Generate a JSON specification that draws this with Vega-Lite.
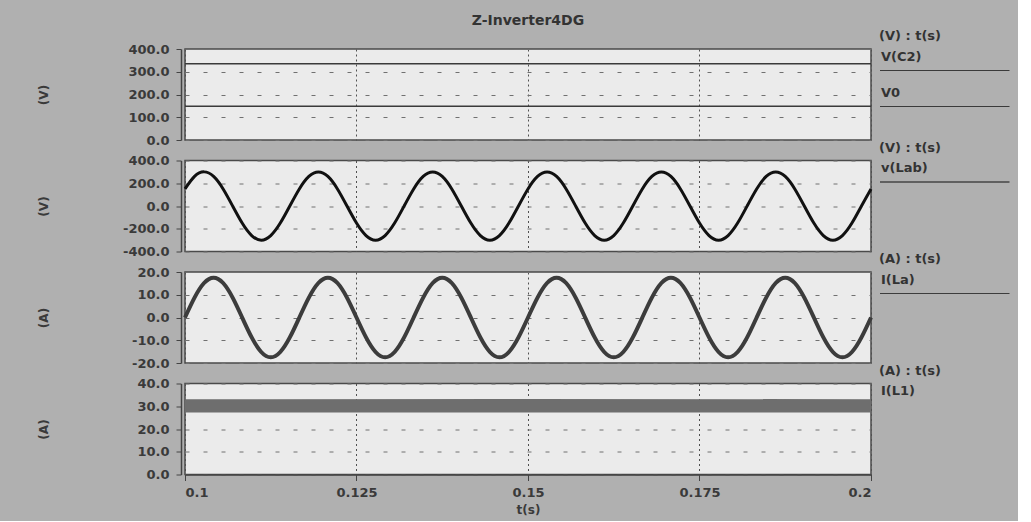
{
 "$schema": "https://vega.github.io/schema/vega-lite/v6.json",
 "background": "#b0b0b0",
 "padding": {"left": 36, "top": 14, "right": 5, "bottom": 4},
 "bounds": "flush",
 "spacing": 20.5,
 "title": {"text": "Z-Inverter4DG", "frame": "group", "anchor": "middle", "font": "DejaVu Sans", "fontSize": 14, "fontWeight": "bold", "color": "#333333", "offset": 1},
 "datasets": {
  "dc": [
   {"t": 0.1, "series": "V(C2)", "value": 335},
   {"t": 0.2, "series": "V(C2)", "value": 335},
   {"t": 0.1, "series": "V0", "value": 148},
   {"t": 0.2, "series": "V0", "value": 148}
  ],
  "ripple": [
   {"t": 0.1, "lo": 27.2, "hi": 33.1},
   {"t": 0.15, "lo": 27.3, "hi": 33.2},
   {"t": 0.2, "lo": 27.2, "hi": 33.1}
  ],
  "sines": [
   {"t": 0.1, "vlab": 150, "ila": 0},
   {"t": 0.101389, "vlab": 260, "ila": 8.75},
   {"t": 0.102778, "vlab": 300, "ila": 15.16},
   {"t": 0.104167, "vlab": 260, "ila": 17.5},
   {"t": 0.105556, "vlab": 150, "ila": 15.16},
   {"t": 0.106944, "vlab": 0, "ila": 8.75},
   {"t": 0.108333, "vlab": -150, "ila": 0},
   {"t": 0.109722, "vlab": -260, "ila": -8.75},
   {"t": 0.111111, "vlab": -300, "ila": -15.16},
   {"t": 0.1125, "vlab": -260, "ila": -17.5},
   {"t": 0.113889, "vlab": -150, "ila": -15.16},
   {"t": 0.115278, "vlab": 0, "ila": -8.75},
   {"t": 0.116667, "vlab": 150, "ila": 0},
   {"t": 0.118056, "vlab": 260, "ila": 8.75},
   {"t": 0.119444, "vlab": 300, "ila": 15.16},
   {"t": 0.120833, "vlab": 260, "ila": 17.5},
   {"t": 0.122222, "vlab": 150, "ila": 15.16},
   {"t": 0.123611, "vlab": 0, "ila": 8.75},
   {"t": 0.125, "vlab": -150, "ila": 0},
   {"t": 0.126389, "vlab": -260, "ila": -8.75},
   {"t": 0.127778, "vlab": -300, "ila": -15.16},
   {"t": 0.129167, "vlab": -260, "ila": -17.5},
   {"t": 0.130556, "vlab": -150, "ila": -15.16},
   {"t": 0.131944, "vlab": 0, "ila": -8.75},
   {"t": 0.133333, "vlab": 150, "ila": 0},
   {"t": 0.134722, "vlab": 260, "ila": 8.75},
   {"t": 0.136111, "vlab": 300, "ila": 15.16},
   {"t": 0.1375, "vlab": 260, "ila": 17.5},
   {"t": 0.138889, "vlab": 150, "ila": 15.16},
   {"t": 0.140278, "vlab": 0, "ila": 8.75},
   {"t": 0.141667, "vlab": -150, "ila": 0},
   {"t": 0.143056, "vlab": -260, "ila": -8.75},
   {"t": 0.144444, "vlab": -300, "ila": -15.16},
   {"t": 0.145833, "vlab": -260, "ila": -17.5},
   {"t": 0.147222, "vlab": -150, "ila": -15.16},
   {"t": 0.148611, "vlab": 0, "ila": -8.75},
   {"t": 0.15, "vlab": 150, "ila": 0},
   {"t": 0.151389, "vlab": 260, "ila": 8.75},
   {"t": 0.152778, "vlab": 300, "ila": 15.16},
   {"t": 0.154167, "vlab": 260, "ila": 17.5},
   {"t": 0.155556, "vlab": 150, "ila": 15.16},
   {"t": 0.156944, "vlab": 0, "ila": 8.75},
   {"t": 0.158333, "vlab": -150, "ila": 0},
   {"t": 0.159722, "vlab": -260, "ila": -8.75},
   {"t": 0.161111, "vlab": -300, "ila": -15.16},
   {"t": 0.1625, "vlab": -260, "ila": -17.5},
   {"t": 0.163889, "vlab": -150, "ila": -15.16},
   {"t": 0.165278, "vlab": 0, "ila": -8.75},
   {"t": 0.166667, "vlab": 150, "ila": 0},
   {"t": 0.168056, "vlab": 260, "ila": 8.75},
   {"t": 0.169444, "vlab": 300, "ila": 15.16},
   {"t": 0.170833, "vlab": 260, "ila": 17.5},
   {"t": 0.172222, "vlab": 150, "ila": 15.16},
   {"t": 0.173611, "vlab": 0, "ila": 8.75},
   {"t": 0.175, "vlab": -150, "ila": 0},
   {"t": 0.176389, "vlab": -260, "ila": -8.75},
   {"t": 0.177778, "vlab": -300, "ila": -15.16},
   {"t": 0.179167, "vlab": -260, "ila": -17.5},
   {"t": 0.180556, "vlab": -150, "ila": -15.16},
   {"t": 0.181944, "vlab": 0, "ila": -8.75},
   {"t": 0.183333, "vlab": 150, "ila": 0},
   {"t": 0.184722, "vlab": 260, "ila": 8.75},
   {"t": 0.186111, "vlab": 300, "ila": 15.16},
   {"t": 0.1875, "vlab": 260, "ila": 17.5},
   {"t": 0.188889, "vlab": 150, "ila": 15.16},
   {"t": 0.190278, "vlab": 0, "ila": 8.75},
   {"t": 0.191667, "vlab": -150, "ila": 0},
   {"t": 0.193056, "vlab": -260, "ila": -8.75},
   {"t": 0.194444, "vlab": -300, "ila": -15.16},
   {"t": 0.195833, "vlab": -260, "ila": -17.5},
   {"t": 0.197222, "vlab": -150, "ila": -15.16},
   {"t": 0.198611, "vlab": 0, "ila": -8.75},
   {"t": 0.2, "vlab": 150, "ila": 0}
  ]
 },
 "resolve": {"scale": {"color": "independent"}, "legend": {"color": "independent"}},
 "vconcat": [
  {
   "width": 686, "height": 91,
   "data": {"name": "dc"},
   "mark": {"type": "line", "strokeWidth": 1.5},
   "encoding": {
    "x": {"field": "t", "type": "quantitative", "scale": {"domain": [0.1, 0.2], "nice": false, "zero": false},
          "axis": {"values": [0.1, 0.125, 0.15, 0.175, 0.2], "grid": true, "gridDash": [2, 3], "gridColor": "#505050", "labels": false, "ticks": false, "domain": false, "title": null}},
    "y": {"field": "value", "type": "quantitative", "scale": {"domain": [0, 400], "nice": false},
          "axis": {"values": [0, 100, 200, 300, 400], "labelExpr": "replace(format(datum.value, '.1f'), '\u2212', '-')", "grid": true, "gridDash": [4, 14], "offset": 4, "tickSize": 5, "labelPadding": 7, "domainWidth": 1.5, "title": "(V)", "titleX": -138, "titleY": 45.5, "titleAngle": 270, "titleAlign": "center", "titleBaseline": "middle"}},
    "color": {"field": "series", "type": "nominal", "scale": {"domain": ["V(C2)", "V0"], "range": ["#3a3a3a", "#3a3a3a"]},
              "legend": {"title": "(V) : t(s)", "orient": "none", "legendX": 694, "legendY": -19, "symbolType": "M-2.75,7L62,7", "symbolSize": 16, "labelOffset": -11, "rowPadding": 13, "titlePadding": 7,
                         "encode": {"symbols": {"update": {"stroke": {"value": "#6a6a6a"}, "fill": {"value": "transparent"}, "strokeWidth": {"value": 1}}}}}}
   }
  },
  {
   "width": 686, "height": 91,
   "data": {"name": "sines"},
   "mark": {"type": "line", "strokeWidth": 3, "interpolate": "natural"},
   "encoding": {
    "x": {"field": "t", "type": "quantitative", "scale": {"domain": [0.1, 0.2], "nice": false, "zero": false},
          "axis": {"values": [0.1, 0.125, 0.15, 0.175, 0.2], "grid": true, "gridDash": [2, 3], "gridColor": "#505050", "labels": false, "ticks": false, "domain": false, "title": null}},
    "y": {"field": "vlab", "type": "quantitative", "scale": {"domain": [-400, 400], "nice": false},
          "axis": {"values": [-400, -200, 0, 200, 400], "labelExpr": "replace(format(datum.value, '.1f'), '\u2212', '-')", "grid": true, "gridDash": [4, 14], "offset": 4, "tickSize": 5, "labelPadding": 7, "domainWidth": 1.5, "title": "(V)", "titleX": -138, "titleY": 45.5, "titleAngle": 270, "titleAlign": "center", "titleBaseline": "middle"}},
    "color": {"datum": "v(Lab)", "type": "nominal", "scale": {"range": ["#111111"]},
              "legend": {"title": "(V) : t(s)", "orient": "none", "legendX": 694, "legendY": -19, "symbolType": "M-2.75,7L62,7", "symbolSize": 16, "labelOffset": -11, "rowPadding": 13, "titlePadding": 7,
                         "encode": {"symbols": {"update": {"stroke": {"value": "#6a6a6a"}, "fill": {"value": "transparent"}, "strokeWidth": {"value": 1}}}}}}
   }
  },
  {
   "width": 686, "height": 91,
   "data": {"name": "sines"},
   "mark": {"type": "line", "strokeWidth": 4, "interpolate": "natural"},
   "encoding": {
    "x": {"field": "t", "type": "quantitative", "scale": {"domain": [0.1, 0.2], "nice": false, "zero": false},
          "axis": {"values": [0.1, 0.125, 0.15, 0.175, 0.2], "grid": true, "gridDash": [2, 3], "gridColor": "#505050", "labels": false, "ticks": false, "domain": false, "title": null}},
    "y": {"field": "ila", "type": "quantitative", "scale": {"domain": [-20, 20], "nice": false},
          "axis": {"values": [-20, -10, 0, 10, 20], "labelExpr": "replace(format(datum.value, '.1f'), '\u2212', '-')", "grid": true, "gridDash": [4, 14], "offset": 4, "tickSize": 5, "labelPadding": 7, "domainWidth": 1.5, "title": "(A)", "titleX": -138, "titleY": 45.5, "titleAngle": 270, "titleAlign": "center", "titleBaseline": "middle"}},
    "color": {"datum": "I(La)", "type": "nominal", "scale": {"range": ["#3c3c3c"]},
              "legend": {"title": "(A) : t(s)", "orient": "none", "legendX": 694, "legendY": -19, "symbolType": "M-2.75,7L62,7", "symbolSize": 16, "labelOffset": -11, "rowPadding": 13, "titlePadding": 7,
                         "encode": {"symbols": {"update": {"stroke": {"value": "#6a6a6a"}, "fill": {"value": "transparent"}, "strokeWidth": {"value": 1}}}}}}
   }
  },
  {
   "width": 686, "height": 91,
   "data": {"name": "ripple"},
   "mark": {"type": "area", "opacity": 1},
   "encoding": {
    "x": {"field": "t", "type": "quantitative", "scale": {"domain": [0.1, 0.2], "nice": false, "zero": false},
          "axis": {"values": [0.1, 0.125, 0.15, 0.175, 0.2], "format": ".3~f", "grid": true, "gridDash": [2, 3], "gridColor": "#505050", "tickSize": 6, "labelPadding": 6, "domainWidth": 1.5, "title": "t(s)", "titlePadding": 5}},
    "y": {"field": "lo", "type": "quantitative", "scale": {"domain": [0, 40], "nice": false},
          "axis": {"values": [0, 10, 20, 30, 40], "labelExpr": "replace(format(datum.value, '.1f'), '\u2212', '-')", "grid": true, "gridDash": [4, 14], "offset": 4, "tickSize": 5, "labelPadding": 7, "domainWidth": 1.5, "title": "(A)", "titleX": -138, "titleY": 45.5, "titleAngle": 270, "titleAlign": "center", "titleBaseline": "middle"}},
    "y2": {"field": "hi"},
    "color": {"datum": "I(L1)", "type": "nominal", "scale": {"range": ["#6e6e6e"]},
              "legend": {"title": "(A) : t(s)", "orient": "none", "legendX": 694, "legendY": -19, "symbolType": "M-2.75,7L62,7", "symbolSize": 16, "labelOffset": -11, "rowPadding": 13, "titlePadding": 7,
                         "encode": {"symbols": {"update": {"stroke": {"value": "#6a6a6a"}, "fill": {"value": "transparent"}, "strokeWidth": {"value": 1}}}}}}
   }
  }
 ],
 "config": {
  "view": {"fill": "#ebebeb", "stroke": "#4a4a4a", "strokeWidth": 1.5},
  "axis": {"labelFont": "DejaVu Sans", "labelFontWeight": "bold", "labelFontSize": 13, "labelColor": "#3a3a3a", "titleFont": "DejaVu Sans", "titleFontWeight": "bold", "titleFontSize": 12, "titleColor": "#3a3a3a", "domainColor": "#444444", "tickColor": "#444444", "gridColor": "#707070", "gridWidth": 1},
  "legend": {"labelFont": "DejaVu Sans", "labelFontWeight": "bold", "labelFontSize": 13, "labelColor": "#333333", "titleFont": "DejaVu Sans", "titleFontWeight": "bold", "titleFontSize": 13, "titleColor": "#333333"}
 }
}
